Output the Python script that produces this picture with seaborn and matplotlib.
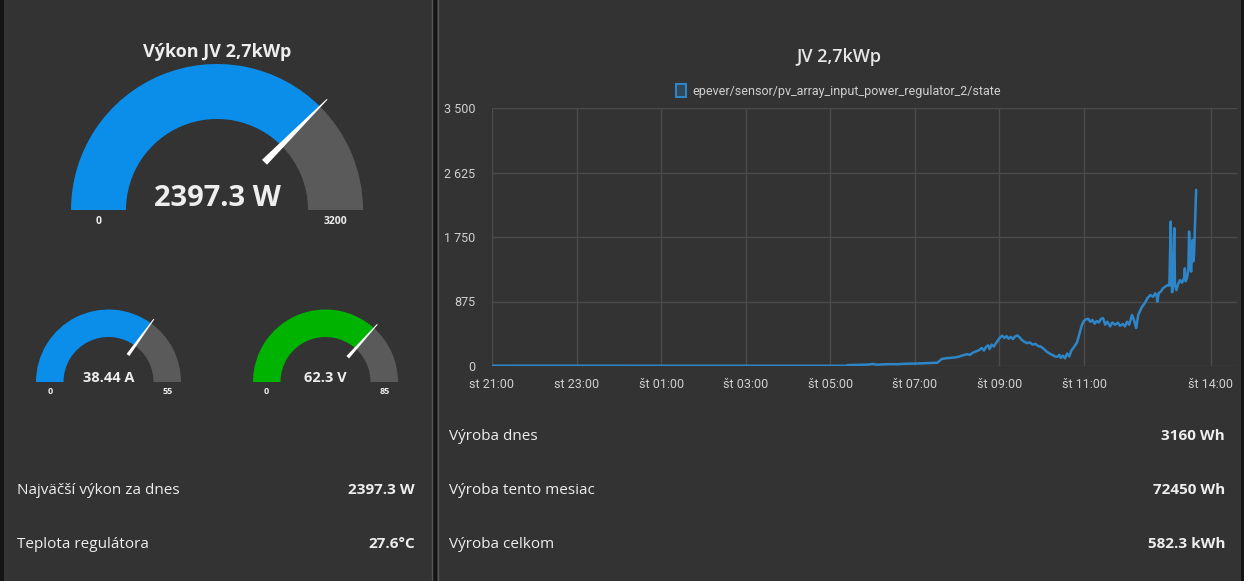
import pandas as pd
import numpy as np
import seaborn as sns
import matplotlib.pyplot as plt
from matplotlib.patches import Wedge, Polygon, Rectangle, Patch

# chart data: clock times (start Wednesday 21:00) and PV input power in W
times = ["21:00", "22:00", "23:00", "00:00", "01:00", "02:00", "03:00", "04:00", "05:00",
         "05:22", "05:25", "05:35", "05:45", "05:55", "06:00", "06:05", "06:15", "06:25",
         "06:35", "06:45", "06:55", "07:05", "07:15", "07:25", "07:32", "07:38", "07:44",
         "07:50", "07:56", "08:02", "08:08", "08:14", "08:18", "08:22", "08:27", "08:31",
         "08:35", "08:38", "08:41", "08:44", "08:46", "08:49", "08:52", "08:55", "08:58",
         "09:01", "09:04", "09:07", "09:10", "09:13", "09:16", "09:19", "09:22", "09:25",
         "09:28", "09:31", "09:35", "09:39", "09:43", "09:47", "09:51", "09:55", "09:59",
         "10:03", "10:07", "10:11", "10:15", "10:19", "10:22", "10:25", "10:27", "10:30",
         "10:33", "10:36", "10:39", "10:42", "10:46", "10:50", "10:53", "10:56", "10:59",
         "11:02", "11:06", "11:09", "11:12", "11:15", "11:18", "11:21", "11:24", "11:27",
         "11:30", "11:33", "11:37", "11:40", "11:44", "11:48", "11:51", "11:55", "11:58",
         "12:01", "12:04", "12:08", "12:11", "12:14", "12:17", "12:19", "12:22", "12:26",
         "12:30", "12:34", "12:38", "12:41", "12:43", "12:44", "12:46", "12:49", "12:52",
         "12:56", "12:59", "13:01", "13:03", "13:04", "13:05", "13:06", "13:08", "13:09",
         "13:11", "13:13", "13:16", "13:19", "13:22", "13:23", "13:24", "13:26", "13:28",
         "13:29", "13:31", "13:32", "13:34", "13:35", "13:36", "13:38", "13:39"]
power = [4, 4, 3, 3, 3, 3, 3, 3, 3,
         3, 12, 14, 17, 20, 28, 18, 22, 25,
         24, 30, 32, 34, 38, 42, 45, 95, 105,
         110, 115, 125, 145, 160, 150, 180, 200, 215,
         245, 210, 260, 280, 230, 290, 265, 310, 350,
         390, 410, 380, 405, 370, 395, 365, 400, 415,
         395, 360, 330, 310, 320, 290, 300, 270, 262,
         230, 195, 170, 150, 130, 125, 150, 110, 140,
         104, 170, 130, 210, 260, 320, 420, 530, 600,
         630, 640, 600, 625, 575, 610, 590, 640, 650,
         560, 600, 537, 590, 560, 587, 545, 570, 537,
         600, 560, 692, 620, 515, 700, 737, 800, 850,
         920, 963, 940, 985, 960, 873, 990, 1010, 1055,
         1080, 1100, 1090, 1960, 1150, 1000, 1080, 1870, 1100,
         1030, 1100, 1165, 1130, 1200, 1325, 1150, 1190, 1300,
         1825, 1350, 1280, 1710, 1420, 1500, 2100, 2390]
series_name = "epever/sensor/pv_array_input_power_regulator_2/state"
y_ticks = [0, 875, 1750, 2625, 3500]
y_tick_labels = ["0", "875", "1 750", "2 625", "3 500"]
x_tick_clock = ["21:00", "23:00", "01:00", "03:00", "05:00", "07:00", "09:00", "11:00", "14:00"]
day_names = ["po", "ut", "st", "št", "pi", "so", "ne"]

# gauges: title, value, unit, min, max
gauge_titles = ["Výkon JV 2,7kWp", "", ""]
gauge_values = [2397.3, 38.44, 62.3]
gauge_units = ["W", "A", "V"]
gauge_min = [0, 0, 0]
gauge_max = [3200, 55, 85]

left_rows = ["Najväčší výkon za dnes", "Teplota regulátora"]
left_vals = ["2397.3 W", "27.6°C"]
right_rows = ["Výroba dnes", "Výroba tento mesiac", "Výroba celkom"]
right_vals = ["3160 Wh", "72450 Wh", "582.3 kWh"]

BG = "#333333"
BLUE = "#0a8eea"
GREEN = "#00b300"
GREY = "#5a5a5a"
TXT = "#eeeeee"
W, H = 1244, 581
TICK_FONT = ["Roboto", "DejaVu Sans"]


def to_datetimes(clock, start="2023-06-14"):
    out, day, prev = [], pd.Timestamp(start), None
    for c in clock:
        t = pd.Timestamp(f"{day.date()} {c}")
        if prev is not None and t < prev:
            day = day + pd.Timedelta(days=1)
            t = pd.Timestamp(f"{day.date()} {c}")
        out.append(t)
        prev = t
    return out


df = pd.DataFrame({"time": to_datetimes(times), "power": power})
x_ticks = to_datetimes(x_tick_clock)

sns.set_theme(style="dark")
plt.rcParams["font.family"] = ["Open Sans", "DejaVu Sans"]

fig = plt.figure(figsize=(W / 100, H / 100), dpi=100)
fig.patch.set_facecolor(BG)

bg = fig.add_axes([0, 0, 1, 1])
bg.set_xlim(0, W)
bg.set_ylim(0, H)
bg.axis("off")


def Y(y):
    return H - y


# panel borders
bg.add_patch(Rectangle((0, 0), 4, H, color="#141414", lw=0))
bg.add_patch(Rectangle((432, 0), 5, H, color="#141414", lw=0))
bg.plot([431.5, 431.5], [0, H], color="#555555", lw=1)
bg.plot([437.5, 437.5], [0, H], color="#555555", lw=1)
bg.add_patch(Rectangle((1241, 0), 3, H, color="#141414", lw=0))


def gauge(cx, cy, r_out, r_in, val, vmin, vmax, color, unit, fs_val, fs_lab, lab_dy, val_dy):
    frac = (val - vmin) / (vmax - vmin)
    ang = 180 - frac * 180
    bg.add_patch(Wedge((cx, Y(cy)), r_out, ang, 180, width=r_out - r_in, color=color, lw=0))
    bg.add_patch(Wedge((cx, Y(cy)), r_out, 0, ang, width=r_out - r_in, color=GREY, lw=0))
    a = np.deg2rad(ang)
    d = np.array([np.cos(a), np.sin(a)])
    p = np.array([-d[1], d[0]])
    c = np.array([cx, Y(cy)])
    base = c + d * r_in * 0.74
    tip = c + d * r_out * 1.07
    hw = r_out * 0.024
    pts = [base + p * hw, tip + p * 0.5, tip - p * 0.5, base - p * hw]
    bg.add_patch(Polygon(pts, closed=True, color="white", lw=0))
    bg.text(cx, Y(cy - val_dy), f"{val:g} {unit}", ha="center", va="baseline",
            fontsize=fs_val, fontweight="bold", color=TXT)
    bg.text(cx - (r_out + r_in) / 2, Y(cy + lab_dy), f"{vmin}", ha="center", va="center",
            fontsize=fs_lab, fontweight="bold", color=TXT)
    bg.text(cx + (r_out + r_in) / 2, Y(cy + lab_dy), f"{vmax}", ha="center", va="center",
            fontsize=fs_lab, fontweight="bold", color=TXT)


bg.text(217, Y(52), gauge_titles[0], ha="center", va="center", fontsize=13,
        fontweight="bold", color=TXT)
gauge(217, 210, 146, 91, gauge_values[0], gauge_min[0], gauge_max[0], BLUE,
      gauge_units[0], 21, 7.5, 12, 4)
gauge(108.5, 382, 72.5, 45, gauge_values[1], gauge_min[1], gauge_max[1], BLUE,
      gauge_units[1], 10.5, 6.5, 9, 0)
gauge(325.5, 382, 72.5, 45, gauge_values[2], gauge_min[2], gauge_max[2], GREEN,
      gauge_units[2], 10.5, 6.5, 9, 0)

for i, (lab, val) in enumerate(zip(left_rows, left_vals)):
    y = 490 + i * 54
    bg.text(17, Y(y), lab, ha="left", va="center", fontsize=11, color=TXT)
    bg.text(415, Y(y), val, ha="right", va="center", fontsize=11, fontweight="bold", color=TXT)

for i, (lab, val) in enumerate(zip(right_rows, right_vals)):
    y = 436 + i * 54
    bg.text(449, Y(y), lab, ha="left", va="center", fontsize=11, color=TXT)
    bg.text(1225, Y(y), val, ha="right", va="center", fontsize=11, fontweight="bold", color=TXT)

# line chart
ax = fig.add_axes([492 / W, (H - 366) / H, 745 / W, 258 / H])
ax.set_facecolor(BG)
sns.lineplot(data=df, x="time", y="power", ax=ax, color="#2e86c8", lw=1.8)
ax.set_ylim(0, 3500)
ax.set_xlim(pd.Timestamp("2023-06-14 21:00"), pd.Timestamp("2023-06-15 14:37"))
ax.set_yticks(y_ticks)
ax.set_yticklabels(y_tick_labels)
ax.set_xticks(x_ticks)
ax.set_xticklabels([f"{day_names[t.weekday()]} {t:%H:%M}" for t in x_ticks])
ax.grid(True, color="#4c4c4c", lw=1)
for s in ax.spines.values():
    s.set_visible(False)
ax.tick_params(axis="both", colors="#4c4c4c", length=7, width=1, labelcolor="#d0d0d0",
               labelsize=9)
ax.tick_params(axis="x", pad=2)
ax.tick_params(axis="y", pad=5)
for lab in ax.get_xticklabels() + ax.get_yticklabels():
    lab.set_family(TICK_FONT)
ax.set_xlabel("")
ax.set_ylabel("")

fig.text(838.5 / W, 1 - 57 / H, "JV 2,7kWp", ha="center", va="center", fontsize=13,
         color="#e6e6e6", fontweight="semibold")
handle = Patch(facecolor=(0.18, 0.52, 0.78, 0.25), edgecolor="#2e86c8", lw=1.5)
leg = fig.legend([handle], [series_name], loc="center", bbox_to_anchor=(838.5 / W, 1 - 91 / H),
                 frameon=False, handlelength=0.8, handleheight=1.2,
                 handletextpad=0.5, labelcolor="#d0d0d0",
                 prop={"family": TICK_FONT, "size": 9})

fig.savefig("out.png", dpi=100, facecolor=BG)
